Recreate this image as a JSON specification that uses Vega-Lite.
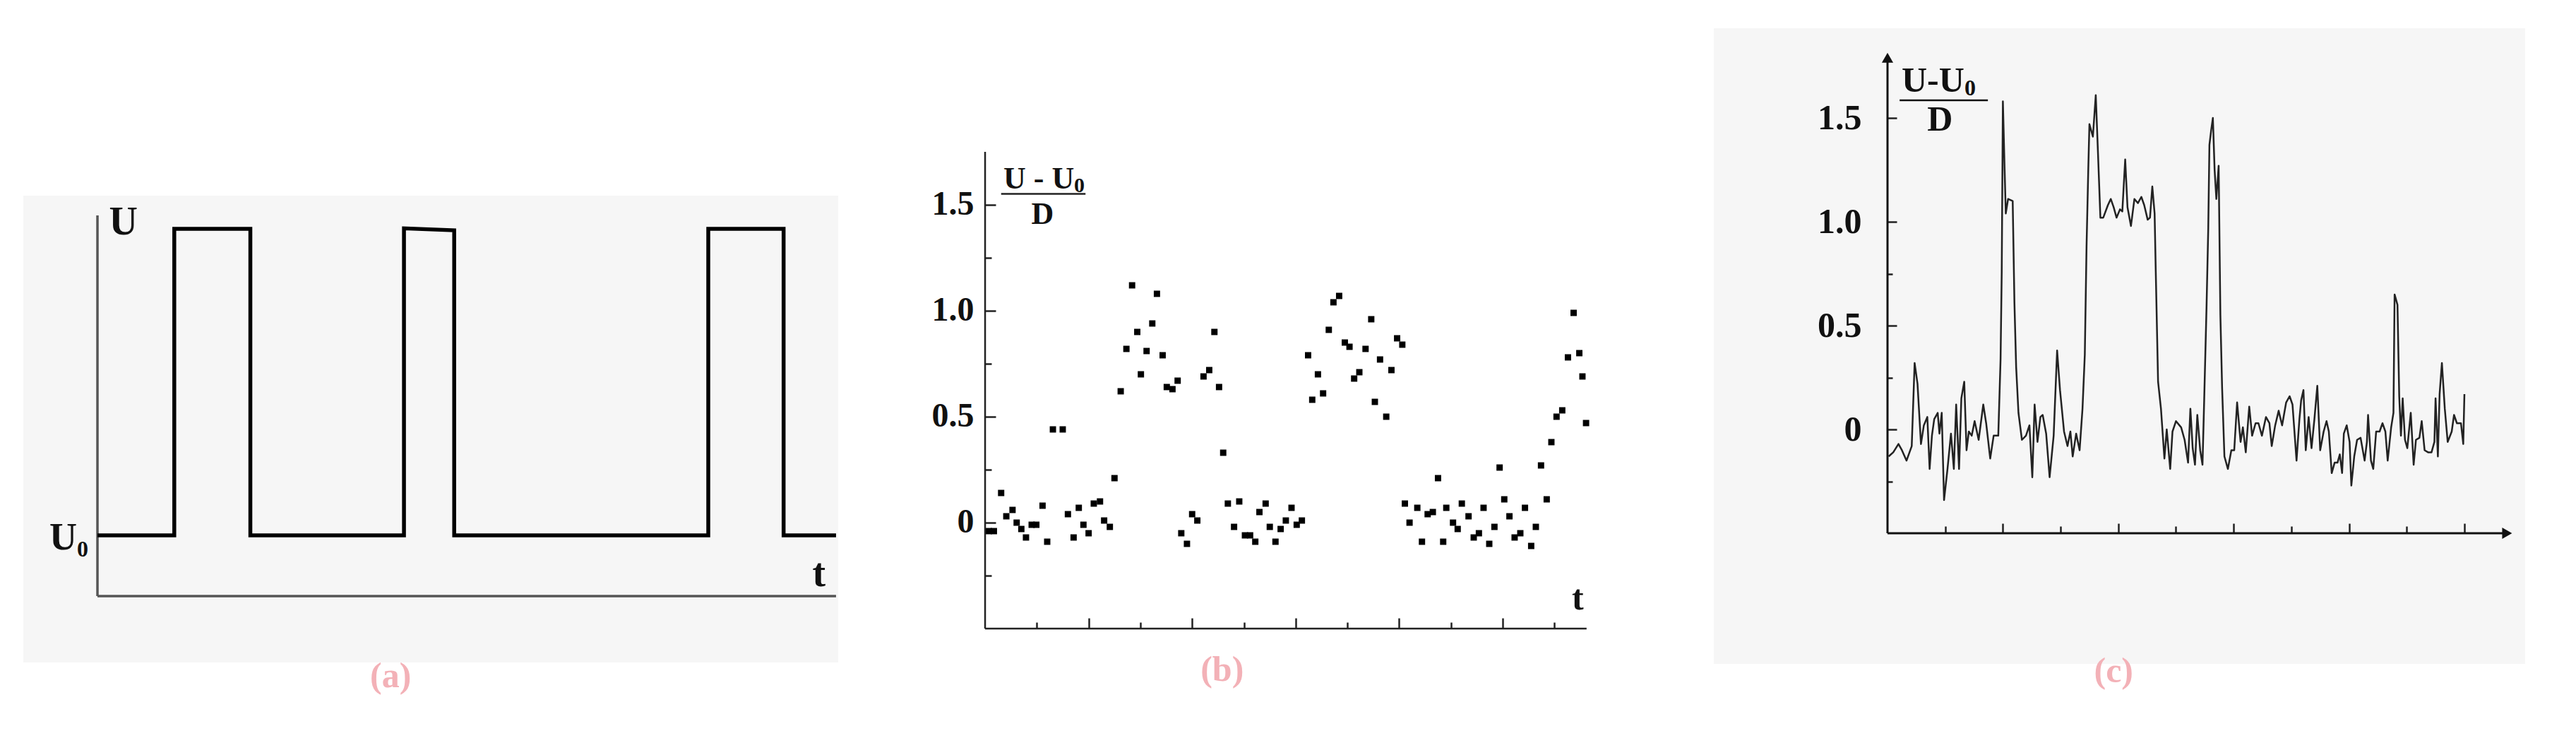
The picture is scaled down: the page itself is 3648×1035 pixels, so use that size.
{
  "$schema": "https://vega.github.io/schema/vega-lite/v6.json",
  "background": "white",
  "padding": {"left": 33, "top": 40, "right": 72, "bottom": 95},
  "autosize": {"type": "pad"},
  "bounds": "flush",
  "spacing": 0,
  "config": {"view": {"stroke": null}, "font": "Liberation Serif"},
  "datasets": {
    "one": [{}],
    "pulse": [
      {"i": 0, "t": 0, "u": 0.1596}, {"i": 1, "t": 10.4, "u": 0.1596}, {"i": 2, "t": 10.4, "u": 0.965}, {"i": 3, "t": 20.7, "u": 0.965},
      {"i": 4, "t": 20.7, "u": 0.1596}, {"i": 5, "t": 41.5, "u": 0.1596}, {"i": 6, "t": 41.5, "u": 0.966}, {"i": 7, "t": 48.3, "u": 0.961},
      {"i": 8, "t": 48.3, "u": 0.1596}, {"i": 9, "t": 82.7, "u": 0.1596}, {"i": 10, "t": 82.7, "u": 0.965}, {"i": 11, "t": 92.9, "u": 0.965},
      {"i": 12, "t": 92.9, "u": 0.1596}, {"i": 13, "t": 100, "u": 0.1596}
    ],
    "dots": [
      {"t":0.07,"v":-0.04},{"t":0.17,"v":-0.04},{"t":0.31,"v":0.14},{"t":0.41,"v":0.03},{"t":0.53,"v":0.06},{"t":0.61,"v":0.0},{"t":0.70,"v":-0.03},{"t":0.79,"v":-0.07},{"t":0.90,"v":-0.01},{"t":0.99,"v":-0.01},
      {"t":1.11,"v":0.08},{"t":1.20,"v":-0.09},{"t":1.31,"v":0.44},{"t":1.50,"v":0.44},{"t":1.60,"v":0.04},{"t":1.71,"v":-0.07},{"t":1.81,"v":0.07},{"t":1.90,"v":-0.01},{"t":2.00,"v":-0.05},{"t":2.10,"v":0.09},
      {"t":2.22,"v":0.10},{"t":2.30,"v":0.01},{"t":2.41,"v":-0.02},{"t":2.50,"v":0.21},{"t":2.62,"v":0.62},{"t":2.73,"v":0.82},{"t":2.84,"v":1.12},{"t":2.94,"v":0.90},{"t":3.01,"v":0.70},{"t":3.12,"v":0.81},
      {"t":3.23,"v":0.94},{"t":3.32,"v":1.08},{"t":3.43,"v":0.79},{"t":3.51,"v":0.64},{"t":3.62,"v":0.63},{"t":3.72,"v":0.67},{"t":3.79,"v":-0.05},{"t":3.90,"v":-0.10},{"t":4.00,"v":0.04},{"t":4.10,"v":0.01},
      {"t":4.22,"v":0.69},{"t":4.33,"v":0.72},{"t":4.43,"v":0.90},{"t":4.52,"v":0.64},{"t":4.60,"v":0.33},{"t":4.69,"v":0.09},{"t":4.81,"v":-0.02},{"t":4.91,"v":0.10},{"t":5.02,"v":-0.06},{"t":5.12,"v":-0.06},
      {"t":5.22,"v":-0.09},{"t":5.30,"v":0.05},{"t":5.42,"v":0.09},{"t":5.50,"v":-0.02},{"t":5.61,"v":-0.09},{"t":5.71,"v":-0.03},{"t":5.81,"v":0.01},{"t":5.92,"v":0.07},{"t":6.02,"v":-0.01},{"t":6.12,"v":0.01},
      {"t":6.24,"v":0.79},{"t":6.32,"v":0.58},{"t":6.43,"v":0.70},{"t":6.53,"v":0.61},{"t":6.64,"v":0.91},{"t":6.73,"v":1.04},{"t":6.84,"v":1.07},{"t":6.95,"v":0.85},{"t":7.04,"v":0.83},{"t":7.13,"v":0.68},
      {"t":7.23,"v":0.71},{"t":7.35,"v":0.82},{"t":7.46,"v":0.96},{"t":7.53,"v":0.57},{"t":7.63,"v":0.77},{"t":7.75,"v":0.50},{"t":7.85,"v":0.72},{"t":7.96,"v":0.87},{"t":8.06,"v":0.84},{"t":8.11,"v":0.09},
      {"t":8.20,"v":0.00},{"t":8.35,"v":0.07},{"t":8.44,"v":-0.09},{"t":8.55,"v":0.04},{"t":8.65,"v":0.05},{"t":8.75,"v":0.21},{"t":8.85,"v":-0.09},{"t":8.91,"v":0.07},{"t":9.04,"v":0.00},{"t":9.13,"v":-0.03},
      {"t":9.21,"v":0.09},{"t":9.34,"v":0.03},{"t":9.44,"v":-0.07},{"t":9.54,"v":-0.05},{"t":9.63,"v":0.07},{"t":9.74,"v":-0.10},{"t":9.84,"v":-0.02},{"t":9.94,"v":0.26},{"t":10.03,"v":0.11},{"t":10.13,"v":0.03},
      {"t":10.23,"v":-0.07},{"t":10.34,"v":-0.05},{"t":10.43,"v":0.07},{"t":10.55,"v":-0.11},{"t":10.64,"v":-0.02},{"t":10.74,"v":0.27},{"t":10.85,"v":0.11},{"t":10.94,"v":0.38},{"t":11.04,"v":0.50},{"t":11.15,"v":0.53},
      {"t":11.26,"v":0.78},{"t":11.37,"v":0.99},{"t":11.48,"v":0.80},{"t":11.54,"v":0.69},{"t":11.61,"v":0.47}
    ],
    "trace": [
      {"t":0.02,"v":-0.13},{"t":0.10,"v":-0.11},{"t":0.19,"v":-0.07},{"t":0.25,"v":-0.10},{"t":0.33,"v":-0.15},{"t":0.42,"v":-0.08},{"t":0.47,"v":0.32},{"t":0.52,"v":0.22},{"t":0.58,"v":-0.07},{"t":0.63,"v":0.02},
      {"t":0.69,"v":0.06},{"t":0.73,"v":-0.19},{"t":0.77,"v":-0.03},{"t":0.81,"v":0.05},{"t":0.87,"v":0.08},{"t":0.90,"v":-0.02},{"t":0.94,"v":0.08},{"t":0.98,"v":-0.34},{"t":1.04,"v":-0.19},{"t":1.10,"v":-0.02},
      {"t":1.15,"v":-0.19},{"t":1.19,"v":0.12},{"t":1.24,"v":-0.19},{"t":1.28,"v":0.15},{"t":1.33,"v":0.23},{"t":1.37,"v":-0.10},{"t":1.41,"v":-0.01},{"t":1.46,"v":-0.03},{"t":1.51,"v":0.04},{"t":1.58,"v":-0.05},
      {"t":1.66,"v":0.12},{"t":1.71,"v":0.03},{"t":1.78,"v":-0.14},{"t":1.84,"v":-0.03},{"t":1.92,"v":-0.03},{"t":1.96,"v":0.34},{"t":1.98,"v":0.76},{"t":2.00,"v":1.58},{"t":2.03,"v":1.25},{"t":2.05,"v":1.04},
      {"t":2.09,"v":1.11},{"t":2.17,"v":1.10},{"t":2.20,"v":0.61},{"t":2.23,"v":0.30},{"t":2.27,"v":0.08},{"t":2.33,"v":-0.05},{"t":2.40,"v":-0.03},{"t":2.46,"v":0.02},{"t":2.51,"v":-0.23},{"t":2.55,"v":0.12},
      {"t":2.60,"v":-0.06},{"t":2.65,"v":0.06},{"t":2.69,"v":0.07},{"t":2.75,"v":-0.02},{"t":2.81,"v":-0.23},{"t":2.88,"v":-0.03},{"t":2.94,"v":0.38},{"t":2.99,"v":0.19},{"t":3.06,"v":-0.01},{"t":3.12,"v":-0.08},
      {"t":3.17,"v":-0.01},{"t":3.21,"v":-0.13},{"t":3.27,"v":-0.02},{"t":3.33,"v":-0.10},{"t":3.38,"v":0.10},{"t":3.42,"v":0.36},{"t":3.45,"v":0.88},{"t":3.48,"v":1.25},{"t":3.50,"v":1.47},{"t":3.56,"v":1.41},
      {"t":3.61,"v":1.61},{"t":3.65,"v":1.32},{"t":3.69,"v":1.02},{"t":3.74,"v":1.02},{"t":3.82,"v":1.08},{"t":3.87,"v":1.11},{"t":3.92,"v":1.07},{"t":3.97,"v":1.02},{"t":4.03,"v":1.06},{"t":4.07,"v":1.05},
      {"t":4.12,"v":1.30},{"t":4.16,"v":1.07},{"t":4.22,"v":0.98},{"t":4.28,"v":1.11},{"t":4.34,"v":1.09},{"t":4.40,"v":1.12},{"t":4.45,"v":1.08},{"t":4.51,"v":1.01},{"t":4.55,"v":1.02},{"t":4.59,"v":1.17},
      {"t":4.63,"v":1.04},{"t":4.65,"v":0.76},{"t":4.69,"v":0.23},{"t":4.74,"v":0.10},{"t":4.80,"v":-0.14},{"t":4.84,"v":0.00},{"t":4.90,"v":-0.19},{"t":4.94,"v":-0.01},{"t":5.00,"v":0.04},{"t":5.09,"v":0.01},
      {"t":5.15,"v":-0.05},{"t":5.21,"v":-0.16},{"t":5.25,"v":0.10},{"t":5.29,"v":-0.09},{"t":5.33,"v":-0.17},{"t":5.37,"v":0.07},{"t":5.42,"v":-0.10},{"t":5.46,"v":-0.17},{"t":5.49,"v":0.15},{"t":5.53,"v":0.59},
      {"t":5.56,"v":0.97},{"t":5.58,"v":1.37},{"t":5.61,"v":1.44},{"t":5.64,"v":1.50},{"t":5.67,"v":1.25},{"t":5.70,"v":1.11},{"t":5.74,"v":1.27},{"t":5.77,"v":0.55},{"t":5.80,"v":0.20},{"t":5.84,"v":-0.13},
      {"t":5.90,"v":-0.19},{"t":5.96,"v":-0.10},{"t":6.01,"v":-0.10},{"t":6.06,"v":0.13},{"t":6.12,"v":-0.06},{"t":6.16,"v":0.01},{"t":6.21,"v":-0.11},{"t":6.27,"v":0.11},{"t":6.32,"v":-0.03},{"t":6.38,"v":0.03},
      {"t":6.43,"v":0.03},{"t":6.49,"v":-0.03},{"t":6.56,"v":0.06},{"t":6.62,"v":0.03},{"t":6.66,"v":-0.08},{"t":6.72,"v":0.02},{"t":6.78,"v":0.09},{"t":6.84,"v":0.02},{"t":6.91,"v":0.13},{"t":6.97,"v":0.16},
      {"t":7.02,"v":0.12},{"t":7.09,"v":-0.15},{"t":7.14,"v":0.05},{"t":7.17,"v":0.14},{"t":7.21,"v":0.19},{"t":7.25,"v":-0.10},{"t":7.30,"v":0.06},{"t":7.35,"v":-0.09},{"t":7.40,"v":0.05},{"t":7.45,"v":0.21},
      {"t":7.50,"v":-0.10},{"t":7.56,"v":-0.01},{"t":7.61,"v":0.04},{"t":7.65,"v":-0.01},{"t":7.70,"v":-0.21},{"t":7.75,"v":-0.16},{"t":7.80,"v":-0.16},{"t":7.84,"v":-0.12},{"t":7.88,"v":-0.21},{"t":7.91,"v":-0.02},
      {"t":7.96,"v":0.02},{"t":8.01,"v":-0.06},{"t":8.04,"v":-0.27},{"t":8.09,"v":-0.13},{"t":8.14,"v":-0.05},{"t":8.20,"v":-0.04},{"t":8.27,"v":-0.15},{"t":8.31,"v":-0.06},{"t":8.33,"v":0.07},{"t":8.38,"v":-0.15},
      {"t":8.42,"v":-0.19},{"t":8.47,"v":-0.01},{"t":8.53,"v":-0.01},{"t":8.58,"v":0.03},{"t":8.63,"v":-0.01},{"t":8.67,"v":-0.15},{"t":8.73,"v":0.01},{"t":8.77,"v":0.08},{"t":8.79,"v":0.65},{"t":8.84,"v":0.60},
      {"t":8.87,"v":0.16},{"t":8.90,"v":-0.03},{"t":8.93,"v":0.15},{"t":8.97,"v":-0.05},{"t":9.01,"v":-0.09},{"t":9.07,"v":0.08},{"t":9.12,"v":-0.17},{"t":9.16,"v":-0.05},{"t":9.22,"v":-0.04},{"t":9.26,"v":0.04},
      {"t":9.31,"v":-0.10},{"t":9.37,"v":-0.11},{"t":9.43,"v":-0.11},{"t":9.48,"v":-0.06},{"t":9.50,"v":0.15},{"t":9.54,"v":-0.13},{"t":9.57,"v":0.17},{"t":9.61,"v":0.32},{"t":9.66,"v":0.10},{"t":9.71,"v":-0.06},
      {"t":9.78,"v":-0.01},{"t":9.82,"v":0.07},{"t":9.87,"v":0.03},{"t":9.94,"v":0.03},{"t":9.98,"v":-0.07},{"t":10.00,"v":0.17}
    ]
  },
  "hconcat": [
    {
      "width": 1154,
      "height": 900,
      "layer": [
        {
          "data": {"name": "one"},
          "mark": {"type": "rect", "color": "#f6f6f6"},
          "encoding": {
            "x": {"value": 0},
            "x2": {"value": "width"},
            "y": {"datum": 1.052, "type": "quantitative", "scale": {"domain": [-0.1781, 1.4917], "nice": false, "zero": false}, "axis": null},
            "y2": {"datum": -0.1744}
          }
        },
        {
          "data": {"name": "one"},
          "mark": {"type": "rule", "color": "#555", "strokeWidth": 3.5},
          "encoding": {
            "x": {"datum": 0, "type": "quantitative", "scale": {"domain": [-10.04, 100.29], "nice": false, "zero": false}, "axis": null},
            "y": {"datum": 0, "type": "quantitative", "axis": null},
            "y2": {"datum": 1.0}
          }
        },
        {
          "data": {"name": "one"},
          "mark": {"type": "rule", "color": "#555", "strokeWidth": 3.5},
          "encoding": {
            "x": {"datum": 0, "type": "quantitative", "axis": null},
            "x2": {"datum": 100},
            "y": {"datum": 0, "type": "quantitative", "axis": null}
          }
        },
        {
          "data": {"name": "pulse"},
          "mark": {"type": "line", "color": "#000", "strokeWidth": 5.5, "strokeJoin": "miter", "strokeCap": "butt"},
          "encoding": {
            "x": {"field": "t", "type": "quantitative", "axis": null},
            "y": {"field": "u", "type": "quantitative", "axis": null},
            "order": {"field": "i"}
          }
        },
        {
          "data": {"name": "one"},
          "mark": {"type": "text", "text": "U", "fontSize": 56, "fontWeight": "bold", "font": "Liberation Serif", "color": "#111", "align": "center", "baseline": "middle"},
          "encoding": {"x": {"datum": 3.5, "type": "quantitative", "axis": null}, "y": {"datum": 0.981, "type": "quantitative", "axis": null}}
        },
        {
          "data": {"name": "one"},
          "mark": {"type": "text", "text": "U", "fontSize": 54, "fontWeight": "bold", "font": "Liberation Serif", "color": "#111", "align": "right", "baseline": "alphabetic"},
          "encoding": {"x": {"datum": -2.77, "type": "quantitative", "axis": null}, "y": {"datum": 0.1225, "type": "quantitative", "axis": null}}
        },
        {
          "data": {"name": "one"},
          "mark": {"type": "text", "text": "0", "fontSize": 32, "fontWeight": "bold", "font": "Liberation Serif", "color": "#111", "align": "left", "baseline": "alphabetic", "dy": 10},
          "encoding": {"x": {"datum": -2.77, "type": "quantitative", "axis": null}, "y": {"datum": 0.1225, "type": "quantitative", "axis": null}}
        },
        {
          "data": {"name": "one"},
          "mark": {"type": "text", "text": "t", "fontSize": 56, "fontWeight": "bold", "font": "Liberation Serif", "color": "#111", "align": "center", "baseline": "middle"},
          "encoding": {"x": {"datum": 97.7, "type": "quantitative", "axis": null}, "y": {"datum": 0.0575, "type": "quantitative", "axis": null}}
        },
        {
          "data": {"name": "one"},
          "mark": {"type": "text", "text": "(a)", "fontSize": 50, "fontWeight": "bold", "font": "Liberation Serif", "color": "#f3b1b7", "align": "center", "baseline": "middle"},
          "encoding": {"x": {"datum": 39.7, "type": "quantitative", "axis": null}, "y": {"datum": -0.2115, "type": "quantitative", "axis": null}}
        }
      ]
    },
    {
      "width": 1240,
      "height": 900,
      "layer": [
        {
          "data": {"name": "dots"},
          "mark": {"type": "point", "shape": "square", "filled": true, "size": 80, "color": "#000", "opacity": 1},
          "encoding": {
            "x": {
              "field": "t", "type": "quantitative",
              "scale": {"domain": [-2.838, 14.078], "nice": false, "zero": false},
              "axis": {
                "orient": "bottom", "offset": -50, "domain": false, "grid": false, "labels": false, "title": null,
                "values": [1, 2, 3, 4, 5, 6, 7, 8, 9, 10, 11],
                "tickColor": "#222", "tickWidth": 2.5,
                "tickSize": {"condition": {"test": "datum.value % 2 == 0", "value": -15}, "value": -9}
              }
            },
            "y": {
              "field": "v", "type": "quantitative",
              "scale": {"domain": [-0.6667, 2.3333], "nice": false, "zero": false},
              "axis": {
                "orient": "left", "offset": -208, "domain": false, "grid": false, "title": null,
                "values": [-0.25, 0, 0.25, 0.5, 0.75, 1, 1.25, 1.5],
                "labelExpr": "datum.value == 0 ? '0' : (abs(datum.value * 2 - round(datum.value * 2)) < 0.001 ? format(datum.value, '.1f') : '')",
                "labelFont": "Liberation Serif", "labelFontSize": 48, "labelFontWeight": "bold", "labelColor": "#111",
                "labelPadding": 31,
                "tickColor": "#222", "tickWidth": 2.5,
                "tickSize": {"condition": {"test": "abs(datum.value * 2 - round(datum.value * 2)) < 0.001", "value": -15}, "value": -9}
              }
            }
          }
        },
        {
          "data": {"name": "one"},
          "mark": {"type": "rule", "color": "#222", "strokeWidth": 2.5},
          "encoding": {"x": {"datum": 0, "type": "quantitative"}, "y": {"datum": -0.5, "type": "quantitative"}, "y2": {"datum": 1.75}}
        },
        {
          "data": {"name": "one"},
          "mark": {"type": "rule", "color": "#222", "strokeWidth": 2.5},
          "encoding": {"x": {"datum": 0, "type": "quantitative"}, "x2": {"datum": 11.62}, "y": {"datum": -0.5, "type": "quantitative"}}
        },
        {
          "data": {"name": "one"},
          "mark": {"type": "text", "text": "U - U", "fontSize": 44, "fontWeight": "bold", "font": "Liberation Serif", "color": "#111", "align": "left", "baseline": "alphabetic"},
          "encoding": {"x": {"datum": 0.355, "type": "quantitative"}, "y": {"datum": 1.577, "type": "quantitative"}}
        },
        {
          "data": {"name": "one"},
          "mark": {"type": "text", "text": "0", "fontSize": 30, "fontWeight": "bold", "font": "Liberation Serif", "color": "#111", "align": "left", "baseline": "alphabetic", "dy": 5},
          "encoding": {"x": {"datum": 1.72, "type": "quantitative"}, "y": {"datum": 1.577, "type": "quantitative"}}
        },
        {
          "data": {"name": "one"},
          "mark": {"type": "rule", "color": "#222", "strokeWidth": 2.5},
          "encoding": {"x": {"datum": 0.31, "type": "quantitative"}, "x2": {"datum": 1.94}, "y": {"datum": 1.552, "type": "quantitative"}}
        },
        {
          "data": {"name": "one"},
          "mark": {"type": "text", "text": "D", "fontSize": 44, "fontWeight": "bold", "font": "Liberation Serif", "color": "#111", "align": "center", "baseline": "middle"},
          "encoding": {"x": {"datum": 1.11, "type": "quantitative"}, "y": {"datum": 1.453, "type": "quantitative"}}
        },
        {
          "data": {"name": "one"},
          "mark": {"type": "text", "text": "t", "fontSize": 50, "fontWeight": "bold", "font": "Liberation Serif", "color": "#111", "align": "center", "baseline": "middle"},
          "encoding": {"x": {"datum": 11.45, "type": "quantitative"}, "y": {"datum": -0.36, "type": "quantitative"}}
        },
        {
          "data": {"name": "one"},
          "mark": {"type": "text", "text": "(b)", "fontSize": 50, "fontWeight": "bold", "font": "Liberation Serif", "color": "#f3b1b7", "align": "center", "baseline": "middle"},
          "encoding": {"x": {"datum": 4.58, "type": "quantitative"}, "y": {"datum": -0.697, "type": "quantitative"}}
        }
      ]
    },
    {
      "width": 1149,
      "height": 900,
      "view": {"fill": "#f6f6f6", "stroke": null},
      "layer": [
        {
          "data": {"name": "trace"},
          "mark": {"type": "line", "color": "#222", "strokeWidth": 2.5, "strokeJoin": "round"},
          "encoding": {
            "x": {
              "field": "t", "type": "quantitative",
              "scale": {"domain": [-3.011, 11.053], "nice": false, "zero": false},
              "axis": {
                "orient": "bottom", "offset": -185, "domain": false, "grid": false, "labels": false, "title": null,
                "values": [1, 2, 3, 4, 5, 6, 7, 8, 9, 10],
                "tickColor": "#222", "tickWidth": 2.5,
                "tickSize": {"condition": {"test": "datum.value % 2 == 0", "value": -14}, "value": -10}
              }
            },
            "y": {
              "field": "v", "type": "quantitative",
              "scale": {"domain": [-1.129, 1.932], "nice": false, "zero": false},
              "axis": {
                "orient": "left", "offset": -246, "domain": false, "grid": false, "title": null,
                "values": [-0.25, 0, 0.25, 0.5, 0.75, 1, 1.5],
                "labelExpr": "datum.value == 0 ? '0' : (abs(datum.value * 2 - round(datum.value * 2)) < 0.001 ? format(datum.value, '.1f') : '')",
                "labelFont": "Liberation Serif", "labelFontSize": 50, "labelFontWeight": "bold", "labelColor": "#111",
                "labelPadding": 50,
                "tickColor": "#222", "tickWidth": 2.5,
                "tickSize": {"condition": {"test": "abs(datum.value * 2 - round(datum.value * 2)) < 0.001", "value": -13}, "value": -7}
              }
            }
          }
        },
        {
          "data": {"name": "one"},
          "mark": {"type": "rule", "color": "#111", "strokeWidth": 3},
          "encoding": {"x": {"datum": 0, "type": "quantitative"}, "y": {"datum": -0.5, "type": "quantitative"}, "y2": {"datum": 1.79}}
        },
        {
          "data": {"name": "one"},
          "mark": {"type": "rule", "color": "#111", "strokeWidth": 3},
          "encoding": {"x": {"datum": 0, "type": "quantitative"}, "x2": {"datum": 10.74}, "y": {"datum": -0.5, "type": "quantitative"}}
        },
        {
          "data": {"name": "one"},
          "mark": {"type": "point", "shape": "triangle-up", "filled": true, "size": 260, "color": "#111", "opacity": 1},
          "encoding": {"x": {"datum": 0, "type": "quantitative"}, "y": {"datum": 1.79, "type": "quantitative"}}
        },
        {
          "data": {"name": "one"},
          "mark": {"type": "point", "shape": "triangle-right", "filled": true, "size": 260, "color": "#111", "opacity": 1},
          "encoding": {"x": {"datum": 10.74, "type": "quantitative"}, "y": {"datum": -0.5, "type": "quantitative"}}
        },
        {
          "data": {"name": "one"},
          "mark": {"type": "text", "text": "U-U", "fontSize": 50, "fontWeight": "bold", "font": "Liberation Serif", "color": "#111", "align": "left", "baseline": "alphabetic"},
          "encoding": {"x": {"datum": 0.245, "type": "quantitative"}, "y": {"datum": 1.626, "type": "quantitative"}}
        },
        {
          "data": {"name": "one"},
          "mark": {"type": "text", "text": "0", "fontSize": 32, "fontWeight": "bold", "font": "Liberation Serif", "color": "#111", "align": "left", "baseline": "alphabetic", "dy": 5},
          "encoding": {"x": {"datum": 1.335, "type": "quantitative"}, "y": {"datum": 1.626, "type": "quantitative"}}
        },
        {
          "data": {"name": "one"},
          "mark": {"type": "rule", "color": "#111", "strokeWidth": 2.5},
          "encoding": {"x": {"datum": 0.21, "type": "quantitative"}, "x2": {"datum": 1.74}, "y": {"datum": 1.585, "type": "quantitative"}}
        },
        {
          "data": {"name": "one"},
          "mark": {"type": "text", "text": "D", "fontSize": 50, "fontWeight": "bold", "font": "Liberation Serif", "color": "#111", "align": "center", "baseline": "middle"},
          "encoding": {"x": {"datum": 0.91, "type": "quantitative"}, "y": {"datum": 1.49, "type": "quantitative"}}
        },
        {
          "data": {"name": "one"},
          "mark": {"type": "text", "text": "(c)", "fontSize": 50, "fontWeight": "bold", "font": "Liberation Serif", "color": "#f3b1b7", "align": "center", "baseline": "middle"},
          "encoding": {"x": {"datum": 3.92, "type": "quantitative"}, "y": {"datum": -1.167, "type": "quantitative"}}
        }
      ]
    }
  ]
}
